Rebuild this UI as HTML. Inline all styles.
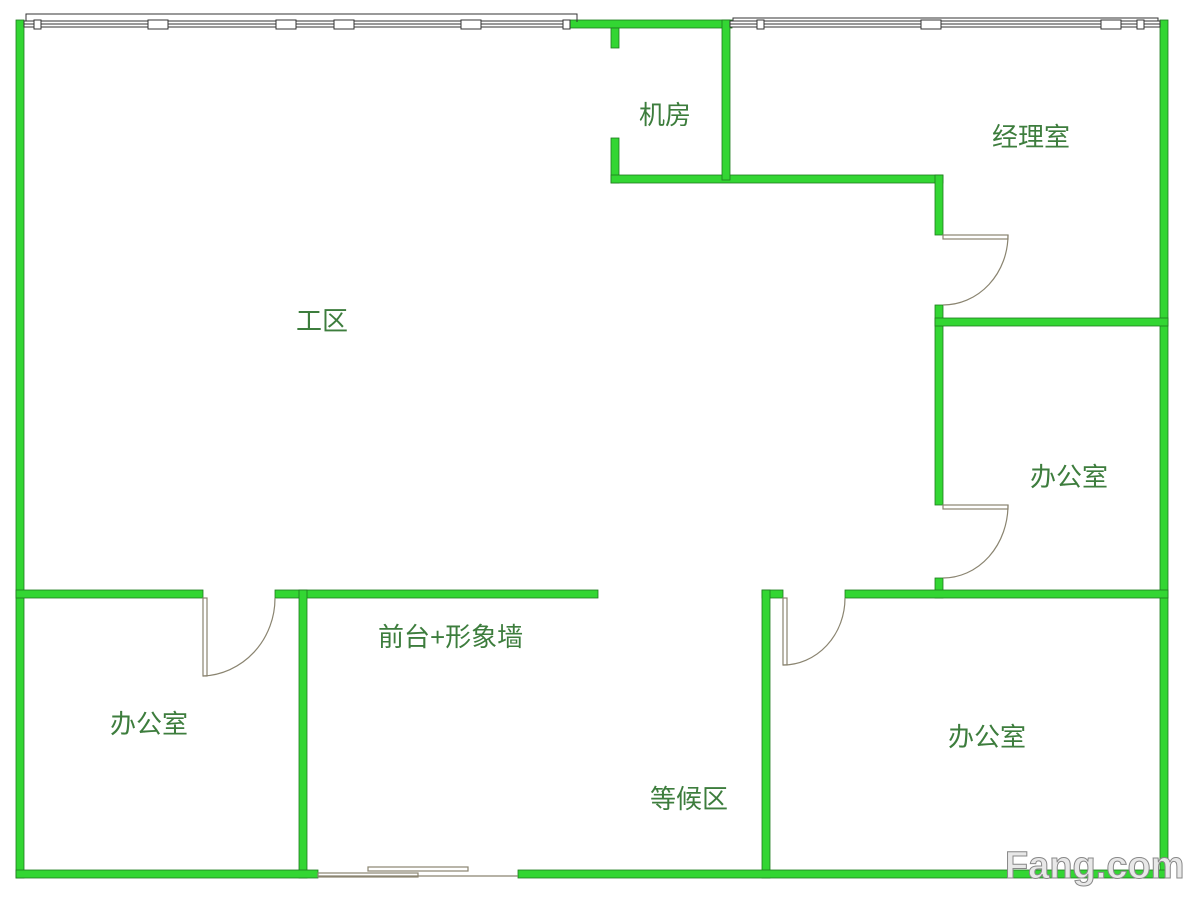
<!DOCTYPE html>
<html><head><meta charset="utf-8"><style>
html,body{margin:0;padding:0;background:#fff;width:1200px;height:900px;overflow:hidden}
text{font-family:"Liberation Sans","Noto Sans CJK SC",sans-serif;fill:#3d7d3d;font-size:26px}
</style></head><body>
<svg width="1200" height="900" viewBox="0 0 1200 900" xmlns="http://www.w3.org/2000/svg">
<g fill="#33d633" stroke="#1f7a1f" stroke-width="0.8">
<!-- outer left -->
<rect x="16" y="20" width="8" height="858"/>
<!-- outer right -->
<rect x="1160" y="20" width="8" height="858"/>
<!-- top green between windows -->
<rect x="570" y="20" width="162" height="8"/>
<!-- machine room -->
<rect x="611" y="28" width="8" height="20"/>
<rect x="611" y="138" width="8" height="45"/>
<rect x="611" y="175" width="332" height="8"/>
<rect x="722" y="20" width="8" height="160"/>
<!-- right partition -->
<rect x="935" y="175" width="8" height="60"/>
<rect x="935" y="305" width="8" height="200"/>
<rect x="935" y="578" width="8" height="20"/>
<rect x="935" y="318" width="233" height="8"/>
<rect x="845" y="590" width="323" height="8"/>
<rect x="762" y="590" width="21" height="8"/>
<rect x="762" y="590" width="8" height="288"/>
<!-- left lower -->
<rect x="16" y="590" width="187" height="8"/>
<rect x="275" y="590" width="323" height="8"/>
<rect x="299" y="590" width="8" height="288"/>
<!-- bottom -->
<rect x="16" y="870" width="302" height="8"/>
<rect x="518" y="870" width="650" height="8"/>
</g>
<!-- windows -->
<g fill="#fff" stroke="#333" stroke-width="1">
<path d="M26 26 V14 H577 V22" fill="none"/>
<rect x="24" y="21" width="546" height="6"/>
<line x1="24" y1="24" x2="570" y2="24"/>
<rect x="34" y="20" width="7" height="9"/><rect x="148" y="20" width="20" height="9"/><rect x="276" y="20" width="20" height="9"/><rect x="334" y="20" width="20" height="9"/><rect x="461" y="20" width="20" height="9"/><rect x="563" y="20" width="7" height="9"/>
<path d="M733 26 V18 H1158 V24" fill="none"/>
<rect x="730" y="21" width="430" height="6"/>
<line x1="730" y1="24" x2="1160" y2="24"/>
<rect x="757" y="20" width="7" height="9"/><rect x="921" y="20" width="20" height="9"/><rect x="1101" y="20" width="20" height="9"/><rect x="1116" y="20" width="20" height="9" opacity="0"/><rect x="985" y="20" width="0" height="0"/>
<rect x="1137" y="20" width="7" height="9"/>
</g>
<!-- doors -->
<g fill="none" stroke="#8a8470" stroke-width="1.2">
<rect x="203" y="598" width="4" height="78"/>
<path d="M203 676 A75 78 0 0 0 275 598"/>
<rect x="783" y="598" width="4" height="67"/>
<path d="M783 665 A62 67 0 0 0 845 598"/>
<rect x="943" y="235" width="65" height="4"/>
<path d="M1008 235 A65 70 0 0 1 943 305"/>
<rect x="943" y="505" width="65" height="4"/>
<path d="M1008 505 A65 73 0 0 1 943 578"/>
<line x1="318" y1="876" x2="518" y2="876"/>
<rect x="368" y="867" width="100" height="4"/>
<rect x="318" y="873" width="100" height="4"/>
</g>
<text x="639" y="124">机房</text>
<text x="296" y="330">工区</text>
<text x="992" y="146">经理室</text>
<text x="1030" y="486">办公室</text>
<text x="378" y="646">前台+形象墙</text>
<text x="110" y="733">办公室</text>
<text x="948" y="746">办公室</text>
<text x="650" y="808">等候区</text>
<text x="1005" y="878" style="font-size:38px;font-weight:bold;fill:#e8e8e8;stroke:#888;stroke-width:1">Fang.com</text>
</svg>
</body></html>
